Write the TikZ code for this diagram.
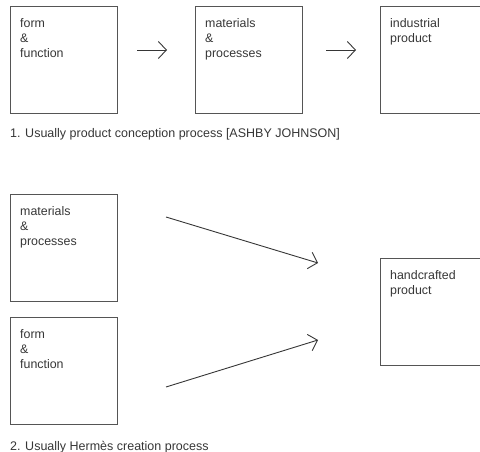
\documentclass[tikz,border=0pt]{standalone}
\usepackage{fontspec}
\setmainfont{Liberation Sans}
\usetikzlibrary{arrows.meta, calc, positioning}

\definecolor{boxline}{HTML}{555555}
\definecolor{inktext}{HTML}{363636}

\tikzset{
  stage/.style={draw=boxline, line width=0.9pt, minimum width=107pt,
    minimum height=107pt, inner sep=0pt, anchor=north west},
  stagetext/.style={anchor=north west, align=left, inner sep=0pt,
    text=inktext, font=\fontsize{12.4}{15}\selectfont},
  caption/.style={anchor=west, inner sep=0pt, text=inktext,
    font=\fontsize{12.5}{15}\selectfont},
  flow/.style={draw=inktext, line width=0.9pt,
    -{Straight Barb[length=8pt,width=17pt]}}
}

\begin{document}
\begin{tikzpicture}[x=1pt,y=-1pt]
% Page is 480 x 452, boxes on the right run past the edge
\clip (0,0) rectangle (480,452);
\useasboundingbox (0,0) rectangle (480,452);
% Upper row: usual product conception
\node [stage] (ff1) at (10,6) {};
\node [stage] (mp1) at (195,6) {};
\node [stage] (ip) at (380,6) {};
\node [stagetext] (ff1t) at ($(ff1.north west)+(10,12)$) {form\\\&\\function};
\node [stagetext] (mp1t) at ($(mp1.north west)+(10,12)$) {materials\\\&\\processes};
\node [stagetext] (ipt) at ($(ip.north west)+(10,12)$) {industrial\\product};
% Arrows between the upper boxes
\coordinate (a1) at (137,50);
\coordinate (b1) at (167,50);
\coordinate (a2) at (326,50);
\coordinate (b2) at (356,50);
\draw [flow] (a1) -- (b1);
\draw [flow] (a2) -- (b2);
\node [caption] (cap1) at (10,134) {1. Usually product conception process [ASHBY JOHNSON]};
% Lower part: Hermes creation
\node [stage] (mp2) at (10,194) {};
\node [stage] (ff2) at (10,317) {};
\node [stage] (hp) at (380,258) {};
\node [stagetext] (mp2t) at ($(mp2.north west)+(10,12)$) {materials\\\&\\processes};
\node [stagetext] (ff2t) at ($(ff2.north west)+(10,12)$) {form\\\&\\function};
\node [stagetext] (hpt) at ($(hp.north west)+(10,12)$) {handcrafted\\product};
% Two arrows meeting in front of the handcrafted product
\coordinate (c1) at (166,217);
\coordinate (d1) at (318,263);
\coordinate (c2) at (166,387);
\coordinate (d2) at (318,340);
\draw [flow] (c1) -- (d1);
\draw [flow] (c2) -- (d2);
\node [caption] (cap2) at (10,447) {2. Usually Herm\`es creation process};
\end{tikzpicture}
\end{document}
